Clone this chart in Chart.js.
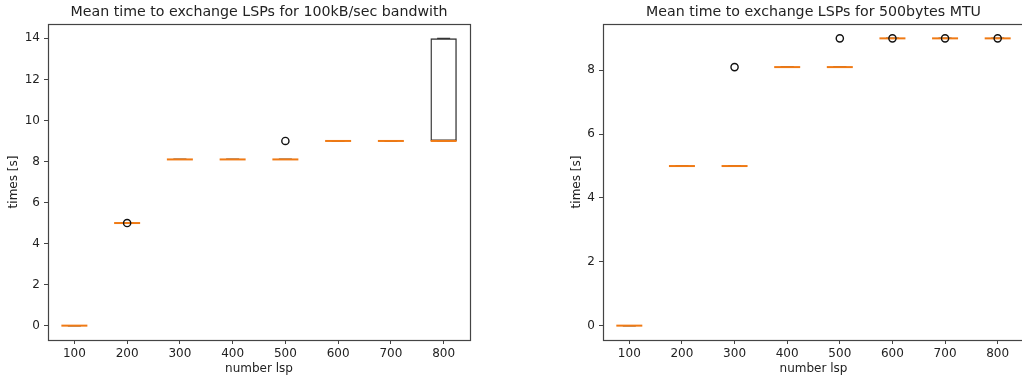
<!DOCTYPE html>
<html>
<head>
<meta charset="utf-8">
<script src="https://cdn.jsdelivr.net/npm/chart.js@4.4.0/dist/chart.umd.min.js"></script>
<style>
html, body { margin: 0; padding: 0; background: #fff; overflow: hidden; width: 1022px; height: 381px; }
canvas { position: absolute; top: 0; }
#bwChart { left: 0; }
#mtuChart { left: 511px; }
</style>
</head>
<body>
<canvas id="bwChart" width="511" height="381"></canvas>
<canvas id="mtuChart" width="528" height="381"></canvas>
<script>
const lspCounts = ['100', '200', '300', '400', '500', '600', '700', '800'];

// 100kB/sec bandwidth runs
const bwQ1 = [0, 5, 8.1, 8.1, 8.1, 9, 9, 9];
const bwMedian = [0, 5, 8.1, 8.1, 8.1, 9, 9, 9];
const bwQ3 = [0, 5, 8.1, 8.1, 8.1, 9, 9, 14];
const bwWhiskerLow = [0, 5, 8.1, 8.1, 8.1, 9, 9, 9];
const bwWhiskerHigh = [0, 5, 8.1, 8.1, 8.1, 9, 9, 14];
const bwFliers = [null, 5, null, null, 9, null, null, null];
const bwTicks = [0, 2, 4, 6, 8, 10, 12, 14];

// 500 bytes MTU runs
const mtuQ1 = [0, 5, 5, 8.1, 8.1, 9, 9, 9];
const mtuMedian = [0, 5, 5, 8.1, 8.1, 9, 9, 9];
const mtuQ3 = [0, 5, 5, 8.1, 8.1, 9, 9, 9];
const mtuWhiskerLow = [0, 5, 5, 8.1, 8.1, 9, 9, 9];
const mtuWhiskerHigh = [0, 5, 5, 8.1, 8.1, 9, 9, 9];
const mtuFliers = [null, null, 8.1, null, 9, 9, 9, 9];
const mtuTicks = [0, 2, 4, 6, 8];

const FONT = 'DejaVu Sans';
const TEXT = '#222';
const LINE = '#333';

// frame around the plot area, whisker stems and the title centred over the axes
const boxFrame = {
    id: 'boxFrame',
    beforeDatasetsDraw(chart) {
        const {ctx, chartArea} = chart;
        const y = chart.scales.y;
        const x = chart.scales.x;
        const w = chart.options.plugins.boxFrame;
        ctx.save();
        ctx.strokeStyle = LINE;
        ctx.lineWidth = 1.3;
        for (let i = 0; i < lspCounts.length; i++) {
            const px = x.getPixelForValue(i);
            ctx.beginPath();
            ctx.moveTo(px, y.getPixelForValue(w.q1[i]));
            ctx.lineTo(px, y.getPixelForValue(w.low[i]));
            ctx.moveTo(px, y.getPixelForValue(w.q3[i]));
            ctx.lineTo(px, y.getPixelForValue(w.high[i]));
            ctx.stroke();
        }
        ctx.strokeStyle = '#444';
        ctx.lineWidth = 1.2;
        ctx.strokeRect(Math.round(chartArea.left) + 0.5, Math.round(chartArea.top) + 0.5,
            Math.round(chartArea.right - chartArea.left), Math.round(chartArea.bottom - chartArea.top));

        ctx.fillStyle = TEXT;
        ctx.font = '14.2px "' + FONT + '"';
        ctx.textAlign = 'center';
        ctx.textBaseline = 'middle';
        ctx.fillText(w.title, (chartArea.left + chartArea.right) / 2, 12.5);
        ctx.restore();
    }
};

function buildBoxplot(canvasId, opts) {
    const ctx = document.getElementById(canvasId).getContext('2d');
    return new Chart(ctx, {
        type: 'bar',
        data: {
            labels: lspCounts,
            datasets: [
                {
                    type: 'bar',
                    data: opts.q1.map((v, i) => [v, opts.q3[i]]),
                    backgroundColor: 'rgba(0,0,0,0)',
                    borderColor: LINE,
                    borderWidth: 1.4,
                    borderSkipped: false,
                    barPercentage: 0.5,
                    categoryPercentage: 1,
                    order: 5
                },
                {
                    type: 'line',
                    data: opts.low,
                    showLine: false,
                    pointStyle: 'line',
                    pointRadius: 6.5,
                    pointBorderColor: LINE,
                    pointBorderWidth: 1.3,
                    order: 4
                },
                {
                    type: 'line',
                    data: opts.high,
                    showLine: false,
                    pointStyle: 'line',
                    pointRadius: 6.5,
                    pointBorderColor: LINE,
                    pointBorderWidth: 1.3,
                    order: 3
                },
                {
                    type: 'line',
                    data: opts.median,
                    showLine: false,
                    pointStyle: 'line',
                    pointRadius: 13,
                    pointBorderColor: '#f07a14',
                    pointBorderWidth: 2,
                    order: 2
                },
                {
                    type: 'line',
                    data: opts.fliers,
                    showLine: false,
                    pointStyle: 'circle',
                    pointRadius: 3.6,
                    pointBorderColor: '#111',
                    pointBackgroundColor: 'rgba(0,0,0,0)',
                    pointBorderWidth: 1.4,
                    order: 1
                }
            ]
        },
        options: {
            responsive: false,
            animation: false,
            events: [],
            layout: {
                padding: {left: opts.padLeft, right: opts.padRight, top: 24, bottom: 0}
            },
            plugins: {
                legend: {display: false},
                tooltip: {enabled: false},
                title: {display: false},
                boxFrame: {title: opts.title, q1: opts.q1, q3: opts.q3, low: opts.low, high: opts.high}
            },
            scales: {
                x: {
                    type: 'category',
                    offset: true,
                    border: {display: false},
                    grid: {offset: false, drawOnChartArea: false, tickLength: 4, color: '#444'},
                    ticks: {color: TEXT, font: {family: FONT, size: 12}, padding: 3, maxRotation: 0, autoSkip: false},
                    title: {
                        display: true,
                        text: 'number lsp',
                        color: TEXT,
                        font: {family: FONT, size: 12},
                        padding: {top: 0, bottom: 5}
                    },
                    afterFit: s => { s.height = 41; }
                },
                y: {
                    min: opts.yMin,
                    max: opts.yMax,
                    border: {display: false},
                    grid: {drawOnChartArea: false, tickLength: 4, color: '#444'},
                    ticks: {color: TEXT, font: {family: FONT, size: 12}, padding: 4},
                    afterBuildTicks: s => { s.ticks = opts.ticks.map(v => ({value: v})); },
                    title: {
                        display: true,
                        text: 'times [s]',
                        color: TEXT,
                        font: {family: FONT, size: 12},
                        padding: {top: 0, bottom: 0}
                    },
                    afterFit: s => { s.width = opts.axisWidth; }
                }
            }
        },
        plugins: [boxFrame]
    });
}

buildBoxplot('bwChart', {
    title: 'Mean time to exchange LSPs for 100kB/sec bandwith',
    q1: bwQ1, q3: bwQ3, median: bwMedian, low: bwWhiskerLow, high: bwWhiskerHigh,
    fliers: bwFliers, ticks: bwTicks,
    yMin: -0.7, yMax: 14.7,
    padLeft: 7, padRight: 41, axisWidth: 41
});

buildBoxplot('mtuChart', {
    title: 'Mean time to exchange LSPs for 500bytes MTU',
    q1: mtuQ1, q3: mtuQ3, median: mtuMedian, low: mtuWhiskerLow, high: mtuWhiskerHigh,
    fliers: mtuFliers, ticks: mtuTicks,
    yMin: -0.45, yMax: 9.45,
    padLeft: 59, padRight: 14, axisWidth: 33
});
</script>
</body>
</html>
